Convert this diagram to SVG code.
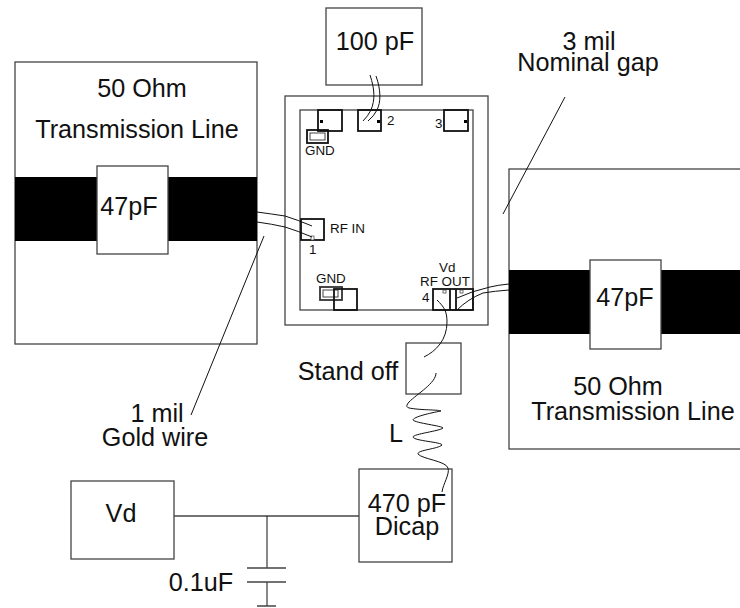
<svg xmlns="http://www.w3.org/2000/svg" width="740" height="608" viewBox="0 0 740 608">
<style>
text{font-family:"Liberation Sans",Arial,sans-serif;fill:#111}
.b{fill:#fff;stroke:#444;stroke-width:1.3}
.w{fill:none;stroke:#111;stroke-width:1}
.p{fill:none;stroke:#111;stroke-width:1.8}
.s{fill:none;stroke:#444;stroke-width:1.3}
.t{font-size:25.2px;text-anchor:middle}
.m{font-size:13.4px}
.k{fill:#000}
</style>
<g id="line-left"><rect class="b" x="15" y="62" width="242" height="282"/><rect class="k" x="15" y="177" width="242" height="64"/><rect class="b" x="97" y="166" width="71" height="88"/><text class="t" x="129" y="215">47pF</text><text class="t" x="142" y="97">50 Ohm</text><text class="t" x="137" y="138">Transmission Line</text></g>
<g id="line-right"><rect class="b" x="509" y="169" width="240" height="280"/><rect class="k" x="509" y="270" width="231" height="64"/><rect class="b" x="590" y="260" width="71" height="89"/><text class="t" x="625" y="306">47pF</text><text class="t" x="618" y="395">50 Ohm</text><text class="t" x="633" y="420">Transmission Line</text></g>
<g id="cap-100pf"><rect class="b" x="326" y="8" width="96" height="77"/><text class="t" x="375" y="50">100 pF</text></g>
<g id="package"><rect class="b" x="285" y="96" width="203" height="229"/><rect class="b" x="300" y="110" width="173" height="200"/></g>
<g id="pad-top-left"><rect class="p" x="318" y="110" width="24" height="21"/><rect class="k" x="320" y="120" width="3" height="3"/></g>
<g id="pad-2"><rect class="p" x="358" y="110" width="23" height="21"/><rect class="k" x="377" y="120" width="3" height="3"/><text class="m" x="387" y="125">2</text></g>
<g id="pad-3"><rect class="p" x="444" y="110" width="24" height="21"/><rect class="k" x="464" y="120" width="3" height="3"/><text class="m" x="435" y="128">3</text></g>
<g id="gnd-top"><rect class="p" x="307" y="130" width="21" height="13"/><rect x="310" y="133" width="15" height="7" fill="none" stroke="#444"/><text class="m" x="305" y="155">GND</text></g>
<g id="pad-rfin"><rect class="p" x="301" y="219" width="23" height="21"/><rect x="311" y="236" width="3" height="4" fill="#fff" stroke="#444" stroke-width=".7"/><text class="m" x="330" y="233">RF IN</text><text class="m" x="309" y="254">1</text></g>
<g id="gnd-bottom"><rect x="320" y="287" width="22" height="13" fill="none" stroke="#333" stroke-width="1.8"/><rect x="323" y="290" width="15" height="7" fill="none" stroke="#444"/><rect class="p" x="334" y="289" width="23" height="21"/><text class="m" x="316" y="283">GND</text></g>
<g id="pad-rfout"><rect class="p" x="433" y="289" width="40" height="21"/><path class="p" d="M450 289V310M456 289V310"/><rect x="443" y="290" width="3" height="3" fill="#fff" stroke="#333" stroke-width=".7"/><rect x="460" y="290" width="3" height="3" fill="#fff" stroke="#333" stroke-width=".7"/><text class="m" x="439" y="272">Vd</text><text class="m" x="420" y="286">RF OUT</text><text class="m" x="422" y="302">4</text></g>
<g id="standoff"><rect class="b" x="406" y="343" width="55" height="51"/><text class="t" x="348" y="380">Stand off</text></g>
<g id="dicap"><rect class="b" x="359" y="469" width="93" height="93"/><text class="t" x="407" y="512">470 pF</text><text class="t" x="407" y="535">Dicap</text></g>
<g id="vd"><rect class="b" x="71" y="481" width="103" height="78"/><text class="t" x="121" y="522">Vd</text></g>
<g id="labels"><text class="t" x="589" y="50">3 mil</text><text class="t" x="588" y="71">Nominal gap</text><text class="t" x="157" y="422">1 mil</text><text class="t" x="155" y="446">Gold wire</text><text class="t" x="396" y="442">L</text><text class="t" x="201" y="591">0.1uF</text></g>
<g id="connectors">
<path class="w" d="M370 75C375 90 375 100 371 110Q368 116 363 121M376 76C381 90 381 102 377 110Q374 116 368 121"/>
<path class="w" d="M257 212Q272 214 285 216Q298 220 312 226M257 222Q272 224 285 227Q298 231 312 237"/>
<path class="w" d="M509 284Q498 285 490 287Q472 291 457 298M509 290Q495 291 483 293Q468 299 457 310"/>
<path class="w" d="M437 300C444 307 447 311 447 322C447 340 436 351 424 357"/>
<path class="w" d="M436 373C436 383 417 394 409 402C404 408 408 408 416 409C426 410 441 410 441 411C430 413 413 417 413 420C415 423 443 426 443 428C440 431 413 434 413 437C414 441 442 442 442 445C438 449 417 450 418 454C422 459 446 461 448 468C450 474 443 484 442 492"/>
<path class="s" d="M174 516H359"/><path class="w" d="M267 516V568M267 582V606"/><path class="s" d="M247 568H286M247 582H286M257 606H276"/>
<path class="w" d="M565 97L503 214M191 415L264 236"/>
</g>
</svg>
